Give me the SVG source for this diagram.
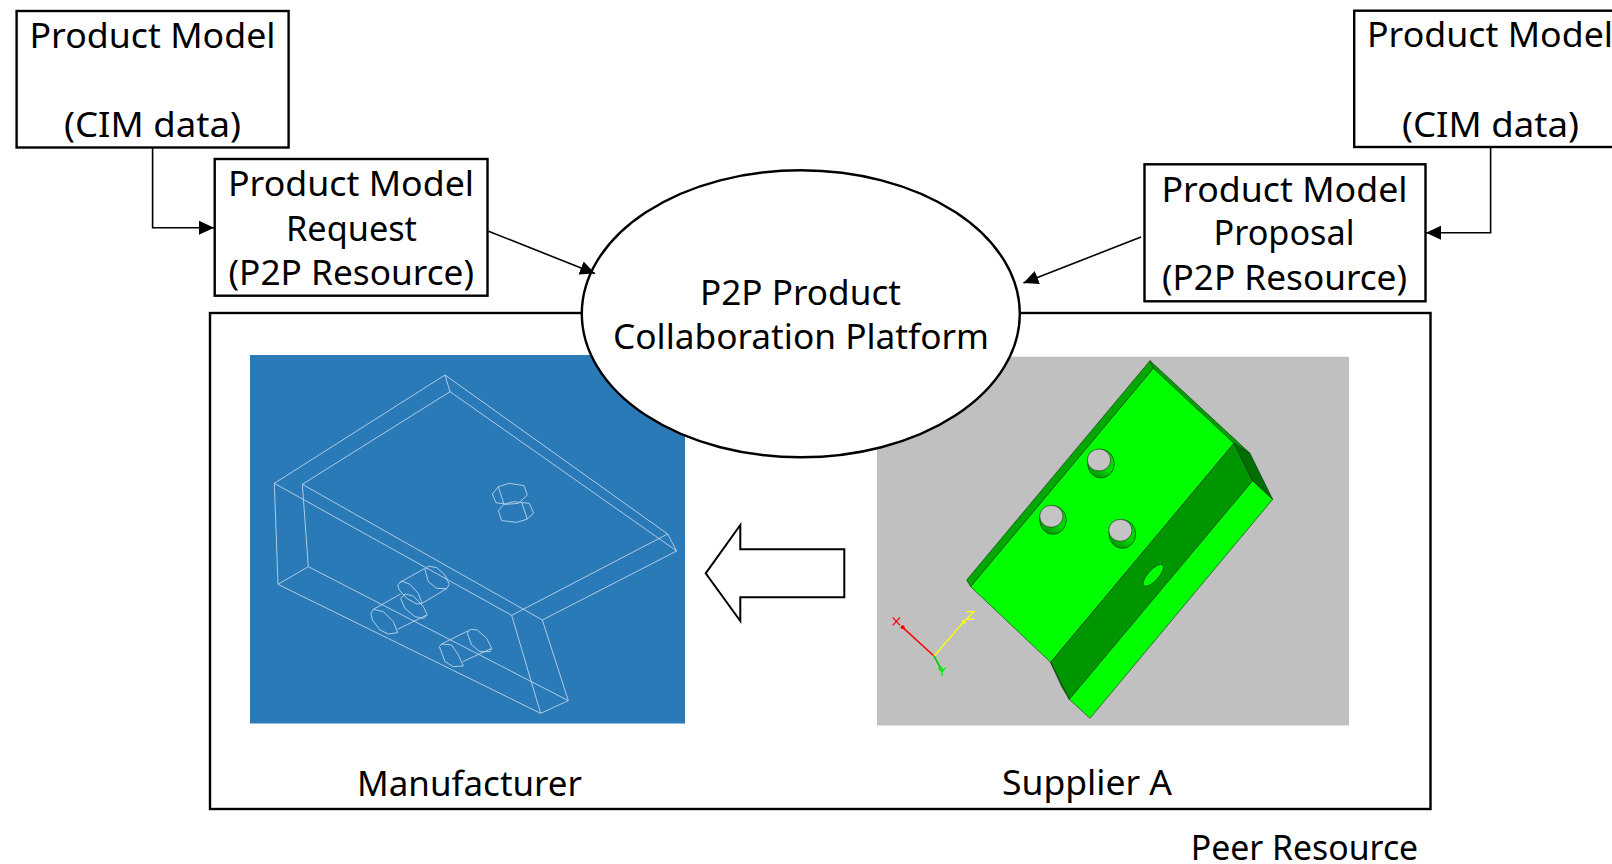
<svg xmlns="http://www.w3.org/2000/svg" width="1612" height="864" viewBox="0 0 1612 864">
<style>
.box{fill:#fff;stroke:#000;stroke-width:2.4}
.lbl{font-family:"Noto Sans","Open Sans",sans-serif;font-size:35px;fill:#000}
.conn{fill:none;stroke:#000;stroke-width:1.6}
.wire{fill:none;stroke:#c0d8ec;stroke-width:2.6;stroke-linejoin:round}
.edge{stroke:#123c12;stroke-width:2;stroke-linejoin:round}
</style>
<defs>
<marker id="ah" markerUnits="userSpaceOnUse" markerWidth="16" markerHeight="16" refX="15" refY="7.5" orient="auto"><path d="M0 0.5L15 7.5L0 14.5Z" fill="#000"/></marker>
<linearGradient id="cres" x1="0.2" y1="1" x2="0.8" y2="0"><stop offset="0" stop-color="#008a00"/><stop offset="0.45" stop-color="#00d800"/></linearGradient>
</defs>
<g id="peer-resource">
<rect class="box" x="210" y="313" width="1220.500" height="496"/>
<text class="lbl" x="1190.700" y="860" textLength="227.500" lengthAdjust="spacingAndGlyphs">Peer Resource</text>
</g>
<g id="manufacturer">
<rect x="250" y="355" width="435" height="368.500" fill="#2a7ab8"/>
<g transform="translate(240 340) scale(.33333)" class="wire">
<path d="M103 430L615 105L1283 582L1310 633L907 840L187 433L630 155L1310 633M615 105L630 155M103 430L815 826L1283 582M103 430L114 733L902 1120L985 1082L205 680L187 433M114 733L205 680M815 826L902 1120M907 840L985 1082"/>
<path d="M757 462L775 440L808 430L852 437L862 465L835 490L800 493L768 488ZM775 512L792 493L820 485L868 490L881 520L860 538L830 547L785 542ZM775 440L792 493M845 487L862 538"/>
<path d="M555 690L565 678L590 683L615 705L628 733L620 746L590 745L565 725ZM473 735L485 723L510 733L535 760L546 790L530 792L500 775L478 750ZM482 775L495 762L520 768L550 800L562 825L550 835L525 830L495 805ZM393 820L400 808L430 815L460 845L473 878L445 882L420 870L397 840ZM478 728L555 685M546 790L620 746M400 808L482 762M473 868L560 825"/>
<path d="M682 880L690 868L712 870L740 895L755 925L750 935L720 935L695 915ZM598 920L605 912L635 915L655 945L670 978L640 980L615 965ZM605 912L685 872M668 965L755 925"/>
</g>
<text class="lbl" x="357" y="795.500" textLength="225" lengthAdjust="spacingAndGlyphs">Manufacturer</text>
</g>
<g id="supplier-a">
<rect x="877" y="356.700" width="472" height="368.800" fill="#c0c0c0"/>
<g transform="translate(870 340) scale(.33333)">
<path class="edge" d="M290 720L840 62L850 85L302 740Z" fill="#00a800"/>
<path class="edge" d="M840 62L1140 340L1092 310L850 85Z" fill="#00a000"/>
<path class="edge" d="M302 740L850 85L1092 310L542 967Z" fill="#00ff00"/>
<path class="edge" d="M542 967L1092 310L1148 422L598 1078Z" fill="#009600"/>
<path class="edge" d="M598 1078L1148 422L1208 478L660 1135Z" fill="#00ff00"/>
<path class="edge" d="M1092 310L1140 340L1208 478L1148 422Z" fill="#006e00"/>
<path class="edge" d="M598 1078L542 967L575 1040Z" fill="#009600"/>
<g>
<ellipse class="edge" cx="693" cy="371" rx="40" ry="43" fill="url(#cres)"/>
<ellipse class="edge" cx="687" cy="360" rx="35" ry="33" fill="#c4c4c4"/>
<ellipse class="edge" cx="549" cy="540" rx="40" ry="43" fill="url(#cres)"/>
<ellipse class="edge" cx="544" cy="529" rx="35" ry="33" fill="#c4c4c4"/>
<ellipse class="edge" cx="757" cy="582" rx="40" ry="43" fill="url(#cres)"/>
<ellipse class="edge" cx="751" cy="571" rx="35" ry="33" fill="#c4c4c4"/>
<ellipse class="edge" cx="850" cy="706" rx="16" ry="42" transform="rotate(42 850 706)" fill="#00ff00"/>
</g>
<path d="M98 862L192 948" stroke="#f00" stroke-width="4.500" fill="none"/>
<path d="M192 948L282 845" stroke="#ff0" stroke-width="4" fill="none"/>
<path d="M192 948L215 990" stroke="#0c0" stroke-width="5" fill="none"/>
<circle cx="98" cy="862" r="6" fill="#f00"/><circle cx="282" cy="845" r="6" fill="#ff0"/><circle cx="213" cy="988" r="6" fill="#0e0"/>
<path d="M68 832L90 856M90 832L68 856" stroke="#f00" stroke-width="4" fill="none"/>
<path d="M290 815H312L290 838H312" stroke="#ff0" stroke-width="4" fill="none"/>
<path d="M205 983L216 995L227 983M216 995V1008" stroke="#0e0" stroke-width="4" fill="none"/>
</g>
<text class="lbl" x="1002" y="794.500" textLength="170" lengthAdjust="spacingAndGlyphs">Supplier A</text>
</g>
<g id="transfer-arrow">
<path d="M705.700 573.300L740.300 525V549.300H844.300V597.300H740.300V621Z" fill="#fff" stroke="#000" stroke-width="2"/>
</g>
<g id="platform">
<ellipse class="box" cx="800.800" cy="313.800" rx="219" ry="143.500"/>
<text class="lbl" x="700" y="305" textLength="201" lengthAdjust="spacingAndGlyphs">P2P Product</text>
<text class="lbl" x="613" y="349.300" textLength="376" lengthAdjust="spacingAndGlyphs">Collaboration Platform</text>
</g>
<g id="model-left">
<rect class="box" x="16.600" y="11" width="272" height="136.500"/>
<text class="lbl" x="29.500" y="48" textLength="246" lengthAdjust="spacingAndGlyphs">Product Model</text>
<text class="lbl" x="64" y="137" textLength="177" lengthAdjust="spacingAndGlyphs">(CIM data)</text>
</g>
<g id="request">
<rect class="box" x="214.700" y="159" width="272.800" height="136.700"/>
<text class="lbl" x="228" y="195.700" textLength="246" lengthAdjust="spacingAndGlyphs">Product Model</text>
<text class="lbl" x="286" y="240.700" textLength="131" lengthAdjust="spacingAndGlyphs">Request</text>
<text class="lbl" x="228.500" y="284.500" textLength="245.500" lengthAdjust="spacingAndGlyphs">(P2P Resource)</text>
</g>
<g id="model-right">
<rect class="box" x="1354.200" y="10.700" width="262" height="136.300"/>
<text class="lbl" x="1367" y="46.700" textLength="246" lengthAdjust="spacingAndGlyphs">Product Model</text>
<text class="lbl" x="1402" y="136.500" textLength="177" lengthAdjust="spacingAndGlyphs">(CIM data)</text>
</g>
<g id="proposal">
<rect class="box" x="1144.500" y="164.300" width="281" height="137"/>
<text class="lbl" x="1161.500" y="201.800" textLength="246" lengthAdjust="spacingAndGlyphs">Product Model</text>
<text class="lbl" x="1213.500" y="245.200" textLength="141" lengthAdjust="spacingAndGlyphs">Proposal</text>
<text class="lbl" x="1162" y="290" textLength="245" lengthAdjust="spacingAndGlyphs">(P2P Resource)</text>
</g>
<g id="connectors">
<path class="conn" d="M152.600 148V227.700H214" marker-end="url(#ah)"/>
<path class="conn" d="M488.500 231.200L595 273.500" marker-end="url(#ah)"/>
<path class="conn" d="M1490.600 147V232.700H1426" marker-end="url(#ah)"/>
<path class="conn" d="M1141 237L1023.400 283" marker-end="url(#ah)"/>
</g>
</svg>
